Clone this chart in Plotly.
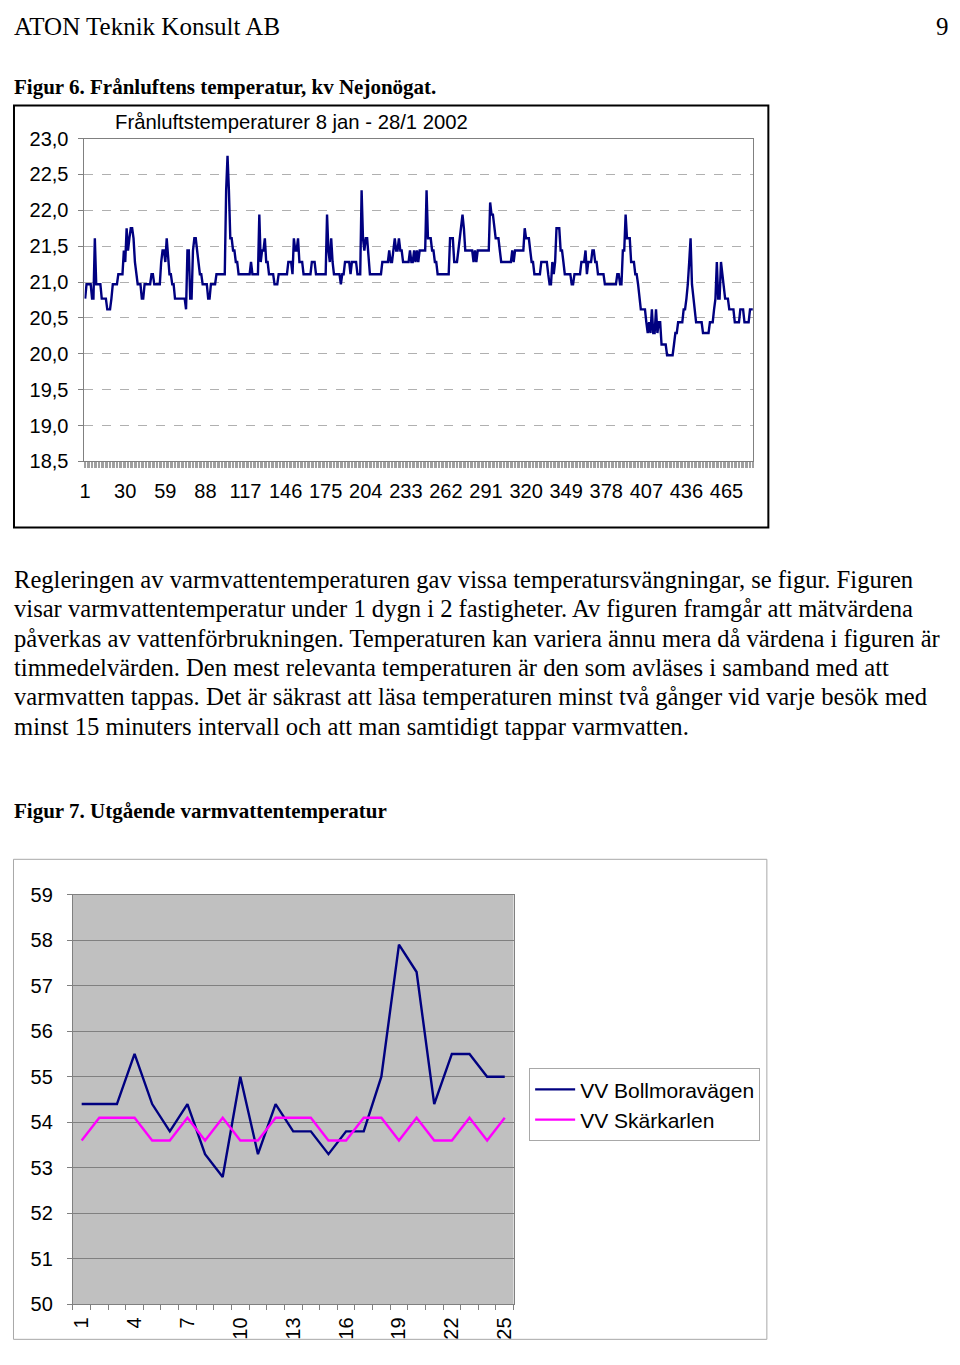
import plotly.graph_objects as go

# Page geometry: the figure sits inside the page body margins. Reference pixel
# positions are converted with the page-to-photo relation measured for this layout.
LEFT, TOP = 8, 14
W, H = 960 - 2 * LEFT, 1365 - TOP - 8
PHOTO_SCALE_Y, PHOTO_SHIFT_Y = 0.984, 3.6

# ---------------- Figure 6 data: hourly exhaust-air temperature ----------------
# As (temperature, number of consecutive hourly readings)
exhaust_runs = [
    (20.77, 1), (20.97, 4), (20.77, 2), (21.61, 1), (20.97, 4), (20.77, 4), (20.62, 3), (20.77, 1),
    (20.97, 4), (21.11, 4), (21.44, 1), (21.28, 1), (21.75, 1), (21.44, 1), (21.61, 1), (21.75, 2),
    (21.61, 1), (21.28, 1), (21.11, 1), (20.97, 3), (20.77, 2), (20.97, 5), (21.11, 2), (20.97, 5),
    (21.28, 1), (21.44, 2), (21.28, 1), (21.61, 1), (21.28, 1), (21.11, 2), (20.97, 2), (20.77, 8),
    (20.62, 1), (21.44, 2), (20.77, 2), (21.44, 1), (21.61, 2), (21.44, 1), (21.28, 1), (21.11, 2),
    (20.97, 4), (20.77, 2), (20.97, 4), (21.11, 7), (22.28, 1), (22.76, 1), (22.28, 1), (21.61, 2),
    (21.44, 2), (21.28, 2), (21.11, 9), (21.28, 1), (21.11, 5), (21.94, 1), (21.28, 1), (21.44, 2),
    (21.61, 1), (21.28, 2), (21.11, 4), (20.97, 3), (21.11, 7), (21.28, 3), (21.11, 1), (21.61, 1),
    (21.44, 2), (21.61, 1), (21.28, 3), (21.11, 6), (21.28, 3), (21.11, 8), (21.94, 1), (21.44, 1),
    (21.28, 1), (21.61, 1), (21.28, 1), (21.11, 5), (20.97, 1), (21.11, 2), (21.28, 4), (21.11, 1),
    (21.28, 4), (21.11, 3), (22.28, 1), (21.61, 1), (21.44, 1), (21.61, 2), (21.28, 1), (21.11, 9),
    (21.28, 5), (21.44, 1), (21.28, 2), (21.44, 1), (21.61, 1), (21.44, 2), (21.61, 1), (21.44, 2),
    (21.28, 5), (21.44, 1), (21.28, 2), (21.44, 1), (21.28, 1), (21.44, 1), (21.28, 1), (21.44, 5),
    (22.28, 1), (21.61, 3), (21.44, 2), (21.28, 2), (21.11, 9), (21.61, 3), (21.28, 3), (21.44, 1),
    (21.61, 1), (21.75, 1), (21.94, 1), (21.75, 1), (21.44, 6), (21.28, 1), (21.44, 1), (21.28, 1),
    (21.44, 9), (22.11, 1), (21.94, 2), (21.75, 1), (21.61, 3), (21.44, 1), (21.28, 8), (21.44, 1),
    (21.28, 1), (21.44, 7), (21.75, 1), (21.61, 3), (21.44, 1), (21.28, 2), (21.11, 5), (21.28, 5),
    (21.11, 1), (20.97, 2), (21.28, 1), (21.11, 1), (21.28, 1), (21.75, 3), (21.44, 2), (21.28, 1),
    (21.11, 5), (20.97, 2), (21.11, 5), (21.28, 3), (21.44, 1), (21.11, 1), (21.28, 3), (21.44, 2),
    (21.28, 2), (21.11, 5), (20.97, 9), (21.11, 2), (20.97, 2), (21.44, 2), (21.94, 1), (21.61, 3),
    (21.28, 3), (21.11, 2), (20.97, 1), (20.77, 1), (20.62, 4), (20.44, 1), (20.29, 1), (20.44, 1),
    (20.29, 1), (20.62, 1), (20.29, 2), (20.62, 1), (20.29, 1), (20.44, 2), (20.13, 4), (19.98, 5),
    (20.13, 1), (20.29, 2), (20.44, 4), (20.62, 2), (20.77, 1), (20.97, 1), (21.28, 1), (21.61, 1),
    (20.97, 1), (20.77, 1), (20.62, 1), (20.44, 5), (20.29, 5), (20.44, 3), (20.62, 1), (20.77, 1),
    (21.28, 1), (20.77, 2), (21.28, 1), (21.11, 1), (20.97, 1), (20.77, 3), (20.62, 4), (20.44, 4),
    (20.62, 3), (20.44, 4), (20.62, 3),
]
exhaust_tick_labels = [1, 30, 59, 88, 117, 146, 175, 204, 233, 262, 291, 320, 349, 378, 407, 436, 465]
exhaust_title = "Frånluftstemperaturer 8 jan - 28/1 2002"

# ---------------- Figure 7 data: outgoing hot-water temperature ----------------
hours = list(range(1, 26))
hour_tick_labels = [1, 4, 7, 10, 13, 16, 19, 22, 25]
vv_bollmoravagen = [54.4, 54.4, 54.4, 55.5, 54.4, 53.8, 54.4, 53.3, 52.8, 55.0, 53.3, 54.4, 53.8,
                    53.8, 53.3, 53.8, 53.8, 55.0, 57.9, 57.3, 54.4, 55.5, 55.5, 55.0, 55.0]
vv_skarkarlen = [53.6, 54.1, 54.1, 54.1, 53.6, 53.6, 54.1, 53.6, 54.1, 53.6, 53.6, 54.1, 54.1,
                 54.1, 53.6, 53.6, 54.1, 54.1, 53.6, 54.1, 53.6, 53.6, 54.1, 53.6, 54.1]

# expand the run list into one value per reading
exhaust_temp = []
for value, count in exhaust_runs:
    exhaust_temp.extend([value] * count)
exhaust_idx = list(range(1, len(exhaust_temp) + 1))

paragraph = [
    "Regleringen av varmvattentemperaturen gav vissa temperatursvängningar, se figur. Figuren",
    "visar varmvattentemperatur under 1 dygn i 2 fastigheter. Av figuren framgår att mätvärdena",
    "påverkas av vattenförbrukningen. Temperaturen kan variera ännu mera då värdena i figuren är",
    "timmedelvärden. Den mest relevanta temperaturen är den som avläses i samband med att",
    "varmvatten tappas. Det är säkrast att läsa temperaturen minst två gånger vid varje besök med",
    "minst 15 minuters intervall och att man samtidigt tappar varmvatten.",
]


def px(x):
    """reference pixel x -> paper fraction"""
    return (x - LEFT) / W


def py(y, clamp=True):
    """reference pixel y (from top) -> paper fraction"""
    page_y = (y - PHOTO_SHIFT_Y) / PHOTO_SCALE_Y
    frac = 1 - (page_y - TOP) / H
    if clamp:
        frac = min(max(frac, 0.0005), 0.9995)
    return frac


SERIF = "Liberation Serif, Times New Roman, serif"
SANS = "Liberation Sans, Arial, sans-serif"
NAVY = "#000080"
MAGENTA = "#ff00ff"

fig = go.Figure()
fig.add_trace(go.Scatter(x=exhaust_idx, y=exhaust_temp, mode="lines",
                         line=dict(color=NAVY, width=2.4), showlegend=False,
                         xaxis="x", yaxis="y", hoverinfo="skip"))
fig.add_trace(go.Scatter(x=hours, y=vv_bollmoravagen, mode="lines", name="VV Bollmoravägen",
                         line=dict(color=NAVY, width=2.4), xaxis="x2", yaxis="y2"))
fig.add_trace(go.Scatter(x=hours, y=vv_skarkarlen, mode="lines", name="VV Skärkarlen",
                         line=dict(color=MAGENTA, width=2.4), xaxis="x2", yaxis="y2"))

annotations = []


def text(x, y, s, size, family=SERIF, anchor="left"):
    annotations.append(dict(x=px(x), y=py(y, clamp=False), xref="paper", yref="paper", text=s,
                            showarrow=False, xanchor=anchor, yanchor="middle", borderpad=0,
                            font=dict(family=family, size=size, color="black")))


text(8, 24.5, "ATON Teknik Konsult AB", 25)
text(952, 24.5, "9", 25, anchor="right")
text(8, 85, "<b>Figur 6. Frånluftens temperatur, kv Nejonögat.</b>", 21)
text(289, 120, exhaust_title, 20.3, family=SANS, anchor="center")
for i, line in enumerate(paragraph):
    text(8, 578 + i * 29.4, line, 24.6)
text(8, 810, "<b>Figur 7. Utgående varmvattentemperatur</b>", 21)

shapes = [
    dict(type="rect", xref="paper", yref="paper", x0=px(9), x1=px(769), y0=py(104), y1=py(526),
         line=dict(color="black", width=2), fillcolor="rgba(0,0,0,0)"),
    dict(type="rect", xref="paper", yref="paper", x0=px(8.5), x1=px(767.5), y0=py(858), y1=py(1363),
         line=dict(color="#a8a8a8", width=1), fillcolor="rgba(0,0,0,0)"),
    dict(type="rect", xref="x2 domain", yref="y2 domain", x0=0, x1=1, y0=0, y1=1,
         fillcolor="#c0c0c0", line=dict(width=0), layer="below"),
]

tickfont = dict(family=SANS, size=20, color="black")

fig.update_layout(
    width=W, height=H, autosize=False,
    margin=dict(l=0, r=0, t=0, b=0, pad=0),
    paper_bgcolor="white", plot_bgcolor="rgba(0,0,0,0)",
    separators=", ",
    font=dict(family=SANS, color="black"),
    annotations=annotations, shapes=shapes,
    showlegend=True,
    legend=dict(x=px(528), y=py(1067), xanchor="left", yanchor="top",
                bgcolor="white", bordercolor="#a8a8a8", borderwidth=1,
                font=dict(family=SANS, size=21, color="black"),
                itemwidth=40, tracegroupgap=0),
    xaxis=dict(domain=[px(80), px(754)], anchor="y", range=[0.5, len(exhaust_temp) + 0.5],
               tickmode="array", tickvals=exhaust_tick_labels,
               ticktext=[str(v) for v in exhaust_tick_labels], ticks="",
               tickfont=tickfont, ticklabelstandoff=12,
               showgrid=False, zeroline=False, showline=True, linecolor="#808080",
               linewidth=1, mirror=True,
               minor=dict(ticks="outside", ticklen=6, tickcolor="#a0a0a0", tickwidth=1,
                          tick0=0.5, dtick=1, showgrid=False)),
    yaxis=dict(domain=[py(460), py(137)], anchor="x", range=[18.5, 23.0],
               tick0=18.5, dtick=0.5, tickformat=".1f", ticks="outside", ticklen=5,
               tickcolor="#808080", tickfont=tickfont, ticklabelstandoff=6,
               showgrid=True, gridcolor="#b0b0b0", griddash="dash", gridwidth=1,
               zeroline=False, showline=True, linecolor="#808080", linewidth=1, mirror=True),
    xaxis2=dict(domain=[px(68.3), px(512.3)], anchor="y2", range=[0.5, 25.5],
                tickmode="array", tickvals=hour_tick_labels,
                ticktext=[str(v) for v in hour_tick_labels], ticks="", tickangle=-90,
                tickfont=tickfont, ticklabelstandoff=4,
                showgrid=False, zeroline=False, showline=True, linecolor="#808080",
                linewidth=1, mirror=True,
                minor=dict(ticks="outside", ticklen=5, tickcolor="#808080", tickwidth=1,
                           tick0=0.5, dtick=1, showgrid=False)),
    yaxis2=dict(domain=[py(1303.3), py(893.3)], anchor="x2", range=[50, 59],
                tick0=50, dtick=1, ticks="outside", ticklen=5, tickcolor="#808080",
                tickfont=tickfont, ticklabelstandoff=10,
                showgrid=True, gridcolor="#808080", gridwidth=1,
                zeroline=False, showline=True, linecolor="#808080", linewidth=1, mirror=True),
)

fig.write_html("out.html", config={"displayModeBar": False, "responsive": False})
